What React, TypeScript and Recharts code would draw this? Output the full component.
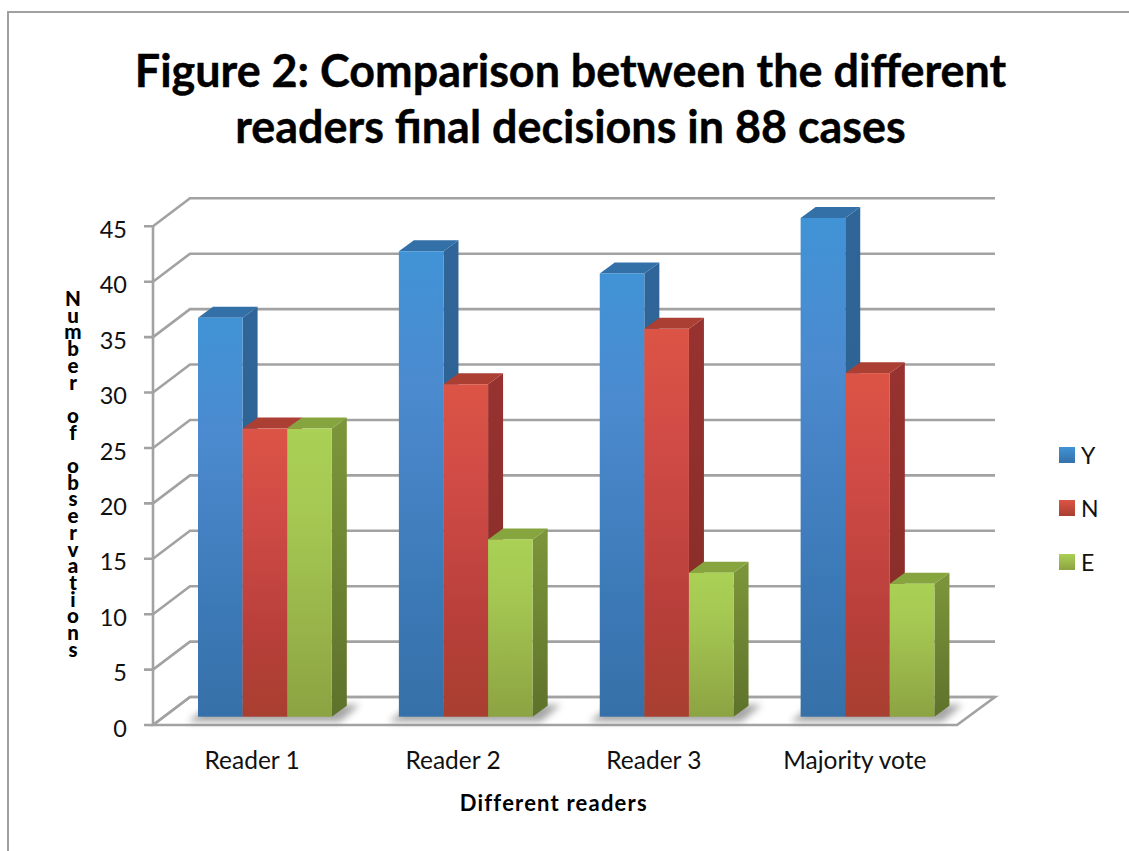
import React from "react";
import { BarChart, Bar, XAxis, YAxis, CartesianGrid, Legend } from "recharts";

const readers = ["Reader 1", "Reader 2", "Reader 3", "Majority vote"];
const yesVotes = [36, 42, 40, 45];
const noVotes = [26, 30, 35, 31];
const equivocal = [26, 16, 13, 12];
const yTicks = [0, 5, 10, 15, 20, 25, 30, 35, 40, 45];

const chartData = readers.map((name, i) => ({ name, Y: yesVotes[i], N: noVotes[i], E: equivocal[i] }));

const FONT = "Lato, 'Open Sans', sans-serif";
const CHART_W = 1129;
const CHART_H = 851;
const X_AXIS_H = 100;
const Y_AXIS_W = 30;
const MARGIN = { top: 218, right: 161.5, bottom: 134.3 - X_AXIS_H, left: 164 - Y_AXIS_W };
const BASE_Y = CHART_H - 134.3;
const PLOT_H = BASE_Y - MARGIN.top;
const GRID_COLOR = "#a2a2a2";
const DEPTH_X = 15;
const DEPTH_Y = 11;

const SERIES = [
  { key: "Y", stops: ["#4093d6", "#4c8acf", "#3c7ab8", "#3670a8"], side: ["#2f6598", "#2c5f8e"], top: "#3370a8" },
  { key: "N", stops: ["#dc5445", "#d04b46", "#b93f3b", "#a83f30"], side: ["#973230", "#842c26"], top: "#ab3f33" },
  { key: "E", stops: ["#aad055", "#a5c852", "#97b349", "#8ca342"], side: ["#7d963a", "#5e722b"], top: "#86a53f" },
];

// back wall line, left wall diagonal and tick for one y value; the floor goes in at zero
const gridLine = (props: any) => {
  const { x1, x2, y1: y } = props;
  const frontY = y + 8.3;
  const backY = y - 19.7;
  const frontX = x1 - 11;
  const backX = x1 + 26;
  const backEnd = x2 + 27.5;
  const line = { stroke: GRID_COLOR, strokeWidth: 2.6, fill: "none" };
  const isFloor = Math.abs(y - BASE_Y) < 1;
  return (
    <g key={props.key}>
      {isFloor && (
        <>
          <polygon
            points={`${frontX},${frontY} ${backX},${backY} ${backEnd},${backY} ${x2 - 10.5},${frontY}`}
            fill="#fff"
            {...line}
          />
          <line x1={frontX} x2={frontX} y1={frontY} y2={frontY - PLOT_H} {...line} />
        </>
      )}
      <polyline points={`${frontX - 9},${frontY} ${frontX},${frontY} ${backX},${backY} ${backEnd},${backY}`} {...line} />
    </g>
  );
};

const YTick = ({ y, payload }: any) => (
  <text x={127} y={y + 14} textAnchor="end" dominantBaseline="middle" fontFamily={FONT} fontSize={23.5} fill="#111">
    {payload.value}
  </text>
);

const XTick = ({ x, y, payload }: any) => (
  <text x={x - 12.3} y={y + 38} textAnchor="middle" dominantBaseline="middle" fontFamily={FONT} fontSize={24.5} fill="#111">
    {payload.value}
  </text>
);

const Bar3D = ({ x, y, width, height, series, hasShadow }: any) => {
  const bottom = y + height;
  const right = x + width;
  return (
    <g>
      {hasShadow && (
        <polygon
          points={`${x - 10},${bottom + 5} ${x + width * 3 + 8},${bottom + 5} ${x + width * 3 + 28},${bottom - 12} ${x + 12},${bottom - 12}`}
          fill="#808080"
          opacity={0.7}
          filter="url(#floorShadow)"
        />
      )}
      <polygon
        points={`${right},${y} ${right + DEPTH_X},${y - DEPTH_Y} ${right + DEPTH_X},${bottom - DEPTH_Y} ${right},${bottom}`}
        fill={`url(#side${series.key})`}
      />
      <polygon
        points={`${x},${y} ${x + DEPTH_X},${y - DEPTH_Y} ${right + DEPTH_X},${y - DEPTH_Y} ${right},${y}`}
        fill={series.top}
      />
      <rect x={x} y={y} width={width} height={height} fill={`url(#face${series.key})`} />
    </g>
  );
};

const LegendBox = () => (
  <div>
    {SERIES.map((series) => (
      <div key={series.key} style={{ display: "flex", alignItems: "center", height: 53.5, fontFamily: FONT, fontSize: 23, color: "#111" }}>
        <span
          style={{
            width: 16,
            height: 16,
            marginRight: 6,
            background: `linear-gradient(${series.stops[0]}, ${series.stops[3]})`,
          }}
        />
        {series.key}
      </div>
    ))}
  </div>
);

export default function App() {
  return (
    <div style={{ position: "absolute", left: 0, top: 0, width: CHART_W, height: CHART_H, background: "#fff", overflow: "hidden" }}>
      <div style={{ position: "absolute", left: 7, top: 11, right: -4, bottom: -4, borderLeft: "2px solid #a0a0a0", borderTop: "2px solid #a0a0a0" }} />
      <div
        style={{
          position: "absolute",
          left: 0,
          top: 42,
          width: 1141,
          textAlign: "center",
          fontFamily: FONT,
          fontWeight: 700,
          fontSize: 44.9,
          lineHeight: "56px",
          color: "#000",
          WebkitTextStroke: "0.4px #000",
        }}
      >
        Figure 2: Comparison between the different
        <br />
        readers final decisions in 88 cases
      </div>
      <div
        style={{
          position: "absolute",
          left: 60,
          top: 286,
          width: 26,
          writingMode: "vertical-rl",
          textOrientation: "upright",
          fontFamily: FONT,
          fontWeight: 900,
          fontSize: 20.5,
          lineHeight: "26px",
          letterSpacing: -7.3,
          color: "#000",
          whiteSpace: "pre",
        }}
      >
        Number of observations
      </div>
      <BarChart
        width={CHART_W}
        height={CHART_H}
        data={chartData}
        margin={MARGIN}
        barSize={44.6}
        barGap={0}
        style={{ position: "absolute", left: 0, top: 0 }}
      >
        <defs>
          <filter id="floorShadow" x="-10%" y="-60%" width="120%" height="220%">
            <feGaussianBlur stdDeviation="3.5" />
          </filter>
          {SERIES.map((s) => (
            <linearGradient key={s.key} id={`face${s.key}`} x1="0" y1="0" x2="0" y2="1">
              <stop offset="0" stopColor={s.stops[0]} />
              <stop offset="0.3" stopColor={s.stops[1]} />
              <stop offset="0.7" stopColor={s.stops[2]} />
              <stop offset="1" stopColor={s.stops[3]} />
            </linearGradient>
          ))}
          {SERIES.map((s) => (
            <linearGradient key={s.key} id={`side${s.key}`} x1="0" y1="0" x2="0" y2="1">
              <stop offset="0" stopColor={s.side[0]} />
              <stop offset="1" stopColor={s.side[1]} />
            </linearGradient>
          ))}
        </defs>
        <CartesianGrid horizontal={gridLine} vertical={false} />
        <XAxis
          dataKey="name"
          height={X_AXIS_H}
          axisLine={false}
          tickLine={false}
          tick={<XTick />}
          interval={0}
          label={{
            value: "Different readers",
            position: "insideBottom",
            offset: 6,
            dx: -12,
            style: { fontFamily: FONT, fontWeight: 700, fontSize: 22, letterSpacing: 1.2, fill: "#000" },
          }}
        />
        <YAxis width={Y_AXIS_W} domain={[0, 45]} ticks={yTicks} interval={0} axisLine={false} tickLine={false} tick={<YTick />} />
        <Legend
          layout="vertical"
          align="center"
          verticalAlign="middle"
          content={<LegendBox />}
          wrapperStyle={{ left: 1059, top: 428, width: 60 }}
        />
        {SERIES.map((s, i) => (
          <Bar
            key={s.key}
            dataKey={s.key}
            isAnimationActive={false}
            fill={s.stops[1]}
            shape={(props: any) => <Bar3D {...props} series={s} hasShadow={i === 0} />}
          />
        ))}
      </BarChart>
    </div>
  );
}
